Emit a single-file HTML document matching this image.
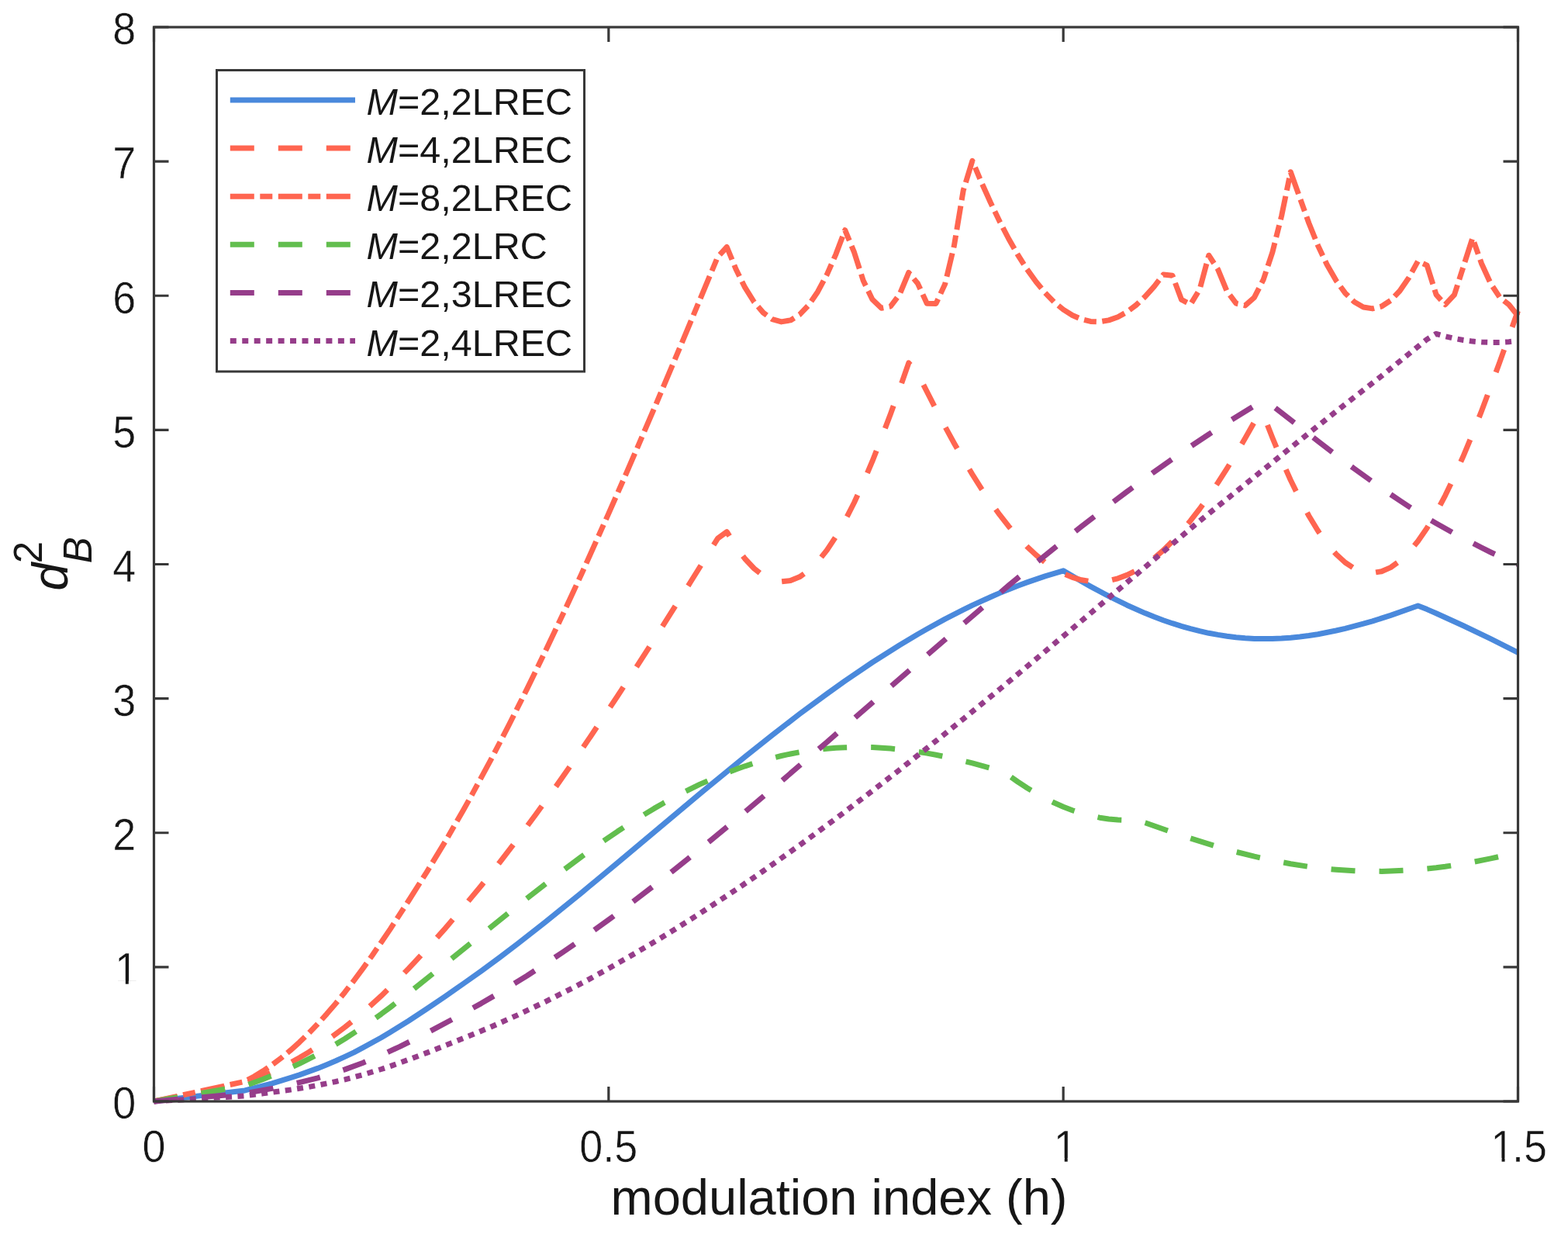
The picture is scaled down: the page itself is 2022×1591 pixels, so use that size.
<!DOCTYPE html>
<html><head><meta charset="utf-8"><title>d_B^2 vs modulation index</title>
<style>
html,body{margin:0;padding:0;background:#fff;}
svg{display:block;}
text{font-family:'Liberation Sans', Arial, Helvetica, sans-serif;fill:#161616;}
.tk text{stroke:#fff;stroke-width:0.5px;paint-order:normal;}
</style></head><body>
<svg width="2022" height="1591" viewBox="0 0 2022 1591">
<rect width="2022" height="1591" fill="#fff"/>
<g fill="none" stroke-width="7" stroke-linejoin="round">
<path d="M198.5 1420.0 L315.8 1405.9 L339.2 1400.0 L350.9 1396.8 L374.4 1389.7 L386.1 1385.9 L409.6 1377.4 L421.3 1372.7 L433.0 1367.8 L444.8 1362.4 L456.5 1356.8 L468.2 1350.7 L491.7 1337.8 L503.4 1330.8 L526.8 1316.2 L550.3 1300.8 L573.8 1284.8 L597.2 1268.5 L620.7 1251.9 L644.1 1234.6 L667.6 1216.8 L702.7 1189.2 L749.7 1151.2 L796.6 1112.2 L902.1 1023.7 L960.7 975.7 L995.9 947.7 L1031.1 920.6 L1066.3 894.6 L1089.7 877.9 L1124.9 854.0 L1160.1 831.7 L1183.5 817.7 L1195.3 811.0 L1218.7 798.1 L1242.2 786.1 L1253.9 780.4 L1277.4 769.7 L1289.1 764.6 L1312.5 755.2 L1324.3 750.9 L1347.7 742.9 L1371.2 735.8 L1394.6 749.5 L1406.3 756.1 L1429.8 768.7 L1453.3 780.2 L1476.7 790.6 L1488.4 795.3 L1500.2 799.7 L1511.9 803.7 L1523.6 807.4 L1535.3 810.7 L1547.1 813.7 L1558.8 816.3 L1570.5 818.4 L1582.2 820.2 L1594.0 821.7 L1605.7 822.7 L1617.4 823.4 L1629.2 823.6 L1640.9 823.5 L1652.6 823.1 L1664.3 822.2 L1676.1 821.0 L1687.8 819.5 L1699.5 817.7 L1723.0 813.0 L1734.7 810.3 L1758.1 804.2 L1769.9 800.8 L1793.3 793.4 L1828.5 781.0 L1840.2 785.6 L1852.0 790.7 L1887.1 806.8 L1922.3 823.7 L1957.5 841.3" stroke="#4a89dc"/>
<path d="M198.5 1420.0 L315.8 1397.2 L327.5 1392.5 L339.2 1387.5 L350.9 1382.1 L362.7 1376.3 L374.4 1370.2 L386.1 1363.7 L397.9 1356.7 L409.6 1349.3 L421.3 1341.5 L433.0 1333.1 L444.8 1324.3 L456.5 1314.9 L468.2 1305.1 L479.9 1294.7 L491.7 1283.9 L503.4 1272.6 L526.8 1248.9 L550.3 1223.7 L573.8 1197.3 L597.2 1170.0 L620.7 1141.7 L644.1 1112.2 L667.6 1081.6 L691.0 1050.0 L714.5 1017.5 L737.9 984.0 L761.4 949.7 L796.6 897.0 L820.0 861.1 L855.2 806.2 L890.4 750.5 L925.6 694.1 L937.3 685.7 L949.0 704.6 L960.7 720.5 L972.5 733.0 L984.2 742.1 L995.9 747.8 L1007.6 749.9 L1019.4 748.6 L1031.1 743.8 L1042.8 735.6 L1054.5 724.1 L1066.3 709.4 L1078.0 691.7 L1089.7 671.2 L1101.5 648.0 L1113.2 622.4 L1124.9 594.7 L1136.6 565.0 L1148.4 533.8 L1160.1 501.3 L1171.8 467.9 L1183.5 481.6 L1207.0 527.9 L1218.7 550.1 L1230.4 571.5 L1242.2 592.0 L1253.9 611.6 L1265.6 630.1 L1277.4 647.5 L1289.1 663.7 L1300.8 678.7 L1312.5 692.3 L1324.3 704.6 L1336.0 715.5 L1347.7 725.0 L1359.4 733.0 L1371.2 739.4 L1382.9 744.4 L1394.6 747.8 L1406.3 749.6 L1418.1 749.9 L1429.8 748.6 L1441.5 745.8 L1453.3 741.4 L1465.0 735.6 L1476.7 728.3 L1488.4 719.6 L1500.2 709.4 L1511.9 697.9 L1523.6 685.2 L1535.3 671.2 L1547.1 656.0 L1558.8 639.7 L1570.5 622.4 L1582.2 604.1 L1594.0 585.0 L1605.7 565.0 L1617.4 544.4 L1629.2 534.7 L1640.9 564.5 L1652.6 592.7 L1664.3 619.0 L1676.1 643.1 L1687.8 665.0 L1699.5 684.3 L1711.2 700.8 L1723.0 714.5 L1734.7 725.3 L1746.4 732.9 L1758.1 737.3 L1769.9 738.6 L1781.6 736.7 L1793.3 731.6 L1805.1 723.3 L1816.8 712.0 L1828.5 697.8 L1840.2 680.7 L1852.0 661.0 L1863.7 638.8 L1875.4 614.3 L1887.1 587.8 L1898.9 559.6 L1910.6 529.7 L1922.3 498.6 L1934.0 466.6 L1957.5 400.8" stroke="#ff6550" stroke-dasharray="31 31"/>
<path d="M198.5 1420.0 L315.8 1394.3 L327.5 1388.0 L339.2 1380.8 L350.9 1372.8 L362.7 1364.0 L374.4 1354.3 L386.1 1343.8 L397.9 1332.4 L409.6 1320.3 L421.3 1307.3 L433.0 1293.7 L444.8 1279.2 L456.5 1264.1 L468.2 1248.3 L479.9 1232.0 L503.4 1197.6 L526.8 1161.5 L550.3 1124.3 L573.8 1085.6 L597.2 1045.0 L608.9 1024.0 L632.4 980.7 L655.8 935.6 L679.3 888.9 L702.7 840.8 L726.2 791.3 L749.7 740.5 L784.8 662.1 L808.3 608.7 L843.5 526.9 L878.6 443.7 L925.6 331.1 L937.3 318.5 L949.0 347.0 L960.7 370.7 L972.5 389.5 L984.2 403.1 L995.9 411.6 L1007.6 414.9 L1019.4 412.9 L1031.1 405.7 L1042.8 393.4 L1054.5 376.2 L1066.3 354.1 L1078.0 327.6 L1089.7 296.7 L1101.5 325.2 L1113.2 361.8 L1124.9 386.0 L1136.6 397.2 L1148.4 395.0 L1160.1 379.6 L1171.8 351.4 L1183.5 365.6 L1195.3 391.2 L1207.0 391.4 L1218.7 366.1 L1230.4 316.7 L1242.2 245.6 L1253.9 207.3 L1265.6 235.1 L1277.4 261.2 L1289.1 285.5 L1300.8 308.0 L1312.5 328.5 L1324.3 347.0 L1336.0 363.3 L1347.7 377.5 L1359.4 389.5 L1371.2 399.1 L1382.9 406.5 L1394.6 411.6 L1406.3 414.4 L1418.1 414.8 L1429.8 412.9 L1441.5 408.7 L1453.3 402.2 L1465.0 393.4 L1476.7 382.4 L1488.4 369.3 L1500.2 354.1 L1511.9 355.3 L1523.6 386.4 L1535.3 392.4 L1547.1 373.0 L1558.8 329.2 L1570.5 347.2 L1582.2 375.5 L1594.0 391.2 L1605.7 393.9 L1617.4 383.6 L1629.2 360.5 L1640.9 325.1 L1652.6 278.5 L1664.3 221.7 L1687.8 287.5 L1699.5 316.4 L1711.2 341.3 L1723.0 361.8 L1734.7 377.9 L1746.4 389.3 L1758.1 396.0 L1769.9 397.9 L1781.6 395.0 L1793.3 387.4 L1805.1 375.0 L1816.8 358.0 L1828.5 336.7 L1840.2 342.2 L1852.0 379.8 L1863.7 392.7 L1875.4 380.2 L1898.9 306.9 L1910.6 340.0 L1922.3 365.6 L1934.0 383.3 L1945.8 392.8 L1957.5 407.2" stroke="#ff6550" stroke-dasharray="31 7.5 16 7.5"/>
<path d="M198.5 1420.0 L315.8 1399.9 L339.2 1391.5 L362.7 1382.0 L386.1 1371.4 L409.6 1359.6 L421.3 1353.2 L433.0 1346.4 L444.8 1339.2 L468.2 1323.9 L491.7 1307.3 L503.4 1298.6 L526.8 1280.5 L667.6 1167.7 L714.5 1131.0 L749.7 1104.6 L773.1 1087.9 L796.6 1071.8 L820.0 1056.7 L843.5 1042.4 L855.2 1035.7 L878.6 1023.0 L902.1 1011.4 L925.6 1001.1 L949.0 991.9 L960.7 987.8 L972.5 984.0 L984.2 980.5 L995.9 977.4 L1007.6 974.5 L1019.4 972.0 L1031.1 969.8 L1042.8 968.0 L1054.5 966.4 L1066.3 965.2 L1078.0 964.3 L1089.7 963.7 L1101.5 963.4 L1124.9 963.6 L1148.4 965.1 L1171.8 967.6 L1195.3 971.1 L1207.0 973.3 L1230.4 978.2 L1253.9 983.9 L1265.6 987.1 L1289.1 993.9 L1300.8 999.9 L1312.5 1008.0 L1324.3 1015.7 L1336.0 1022.7 L1347.7 1029.2 L1359.4 1035.0 L1371.2 1040.2 L1382.9 1044.7 L1394.6 1048.6 L1406.3 1051.7 L1418.1 1054.2 L1429.8 1056.0 L1441.5 1057.0 L1453.3 1057.4 L1465.0 1057.0 L1476.7 1060.7 L1511.9 1073.1 L1535.3 1080.9 L1570.5 1091.8 L1594.0 1098.3 L1617.4 1104.2 L1640.9 1109.3 L1664.3 1113.8 L1687.8 1117.4 L1711.2 1120.2 L1723.0 1121.2 L1746.4 1122.7 L1758.1 1123.2 L1781.6 1123.4 L1793.3 1123.1 L1816.8 1122.0 L1828.5 1121.1 L1852.0 1118.8 L1863.7 1117.3 L1887.1 1113.7 L1898.9 1111.6 L1922.3 1106.9 L1934.0 1104.3 L1957.5 1098.7" stroke="#62be4e" stroke-dasharray="31 31"/>
<path d="M198.5 1420.0 L315.8 1409.8 L350.9 1403.4 L374.4 1398.4 L386.1 1395.7 L409.6 1389.8 L421.3 1386.4 L444.8 1378.9 L468.2 1370.2 L491.7 1360.4 L515.1 1349.6 L538.6 1337.9 L562.0 1325.7 L585.5 1313.1 L620.7 1293.6 L644.1 1279.9 L679.3 1258.2 L702.7 1243.0 L726.2 1227.3 L749.7 1211.1 L784.8 1185.9 L808.3 1168.6 L843.5 1141.7 L866.9 1123.4 L902.1 1095.3 L949.0 1056.7 L1007.6 1007.2 L1066.3 956.8 L1195.3 844.7 L1265.6 784.4 L1300.8 754.8 L1336.0 725.7 L1371.2 697.3 L1394.6 678.8 L1429.8 651.6 L1453.3 633.9 L1488.4 608.3 L1511.9 591.7 L1535.3 575.6 L1558.8 560.0 L1582.2 545.0 L1617.4 523.3 L1629.2 522.9 L1640.9 523.1 L1699.5 568.8 L1723.0 586.8 L1746.4 604.3 L1781.6 629.5 L1805.1 645.4 L1816.8 653.1 L1840.2 667.8 L1852.0 674.7 L1875.4 687.9 L1910.6 706.2 L1922.3 712.0 L1934.0 717.5 L1945.8 722.7 L1957.5 727.5" stroke="#963d8a" stroke-dasharray="31 31"/>
<path d="M198.5 1420.0 L315.8 1412.9 L339.2 1409.9 L374.4 1405.1 L397.9 1401.4 L409.6 1399.3 L433.0 1394.5 L444.8 1391.8 L468.2 1385.6 L491.7 1378.5 L503.4 1374.6 L526.8 1366.2 L550.3 1357.4 L585.5 1343.5 L608.9 1334.1 L632.4 1324.3 L667.6 1308.6 L702.7 1291.8 L737.9 1274.0 L761.4 1261.6 L784.8 1248.7 L820.0 1228.5 L843.5 1214.6 L866.9 1200.3 L902.1 1178.0 L949.0 1147.1 L984.2 1123.0 L1031.1 1089.7 L1078.0 1055.3 L1124.9 1019.7 L1160.1 992.4 L1207.0 955.3 L1242.2 927.0 L1289.1 888.6 L1336.0 849.7 L1382.9 810.4 L1547.1 671.6 L1687.8 558.4 L1734.7 521.2 L1781.6 484.7 L1840.2 437.4 L1852.0 430.3 L1863.7 433.6 L1875.4 436.4 L1887.1 438.5 L1898.9 440.1 L1910.6 441.1 L1922.3 441.5 L1934.0 441.4 L1945.8 440.7 L1957.5 439.4" stroke="#963d8a" stroke-dasharray="8 7.45"/>
</g>
<g fill="none" stroke="#383838" stroke-width="3.2">
<path d="M198.5 1420.00h19M1957.5 1420.00h-19M198.5 1246.88h19M1957.5 1246.88h-19M198.5 1073.75h19M1957.5 1073.75h-19M198.5 900.62h19M1957.5 900.62h-19M198.5 727.50h19M1957.5 727.50h-19M198.5 554.38h19M1957.5 554.38h-19M198.5 381.25h19M1957.5 381.25h-19M198.5 208.12h19M1957.5 208.12h-19M198.5 35.00h19M1957.5 35.00h-19M198.50 1420.0v-19M198.50 35v19M784.83 1420.0v-19M784.83 35v19M1371.17 1420.0v-19M1371.17 35v19M1957.50 1420.0v-19M1957.50 35v19"/>
<rect x="198.5" y="35" width="1759.0" height="1385.0"/>
</g>
<g class="tk" font-size="54.5"><g transform="translate(175.30 1442.30) scale(0.99 1.05)"><text x="-30.31">0</text><g fill="#fff"></g></g><g transform="translate(175.30 1269.17) scale(0.99 1.05)"><text x="-27.68">1</text><g fill="#fff"><rect x="-25.29" y="-4.26" width="11.71" height="8.26"/><rect x="-9.56" y="-4.26" width="11.42" height="8.26"/></g></g><g transform="translate(175.30 1096.05) scale(0.99 1.05)"><text x="-30.31">2</text><g fill="#fff"></g></g><g transform="translate(175.30 922.92) scale(0.99 1.05)"><text x="-30.31">3</text><g fill="#fff"></g></g><g transform="translate(175.30 749.80) scale(0.99 1.05)"><text x="-30.31">4</text><g fill="#fff"></g></g><g transform="translate(175.30 576.67) scale(0.99 1.05)"><text x="-30.31">5</text><g fill="#fff"></g></g><g transform="translate(175.30 403.55) scale(0.99 1.05)"><text x="-30.31">6</text><g fill="#fff"></g></g><g transform="translate(175.30 230.43) scale(0.99 1.05)"><text x="-30.31">7</text><g fill="#fff"></g></g><g transform="translate(175.30 57.30) scale(0.99 1.05)"><text x="-30.31">8</text><g fill="#fff"></g></g></g>
<g class="tk" font-size="54.5"><g transform="translate(198.50 1497.50) scale(0.99 1.05)"><text x="-15.16">0</text><g fill="#fff"></g></g><g transform="translate(784.83 1497.50) scale(0.99 1.05)"><text x="-37.88">0.5</text><g fill="#fff"></g></g><g transform="translate(1371.17 1497.50) scale(0.99 1.05)"><text x="-12.53">1</text><g fill="#fff"><rect x="-10.13" y="-4.26" width="11.71" height="8.26"/><rect x="5.59" y="-4.26" width="11.42" height="8.26"/></g></g><g transform="translate(1957.50 1497.50) scale(0.99 1.05)"><text x="-35.25">1</text><text x="-7.57">.5</text><g fill="#fff"><rect x="-32.86" y="-4.26" width="11.71" height="8.26"/><rect x="-17.13" y="-4.26" width="11.42" height="8.26"/></g></g></g>
<text x="1082" y="1565.5" font-size="65" text-anchor="middle">modulation index (h)</text>
<g transform="translate(0 802.7) rotate(-90)" font-size="65">
<text x="41" y="86.5" font-style="italic">d</text>
<text x="76.5" y="54.3" font-size="51">2</text>
<text x="76.5" y="118.2" font-size="51" font-style="italic">B</text>
</g>
<rect x="279.5" y="90.5" width="474" height="388.5" fill="#fff" stroke="#383838" stroke-width="3"/>
<g fill="none" stroke-width="7">
<path d="M296.8 129.0H458" stroke="#4a89dc"/>
<path d="M296.8 191.1H458" stroke="#ff6550" stroke-dasharray="31 31"/>
<path d="M296.8 253.2H458" stroke="#ff6550" stroke-dasharray="31 7.5 16 7.5"/>
<path d="M296.8 315.3H458" stroke="#62be4e" stroke-dasharray="31 31"/>
<path d="M296.8 377.4H458" stroke="#963d8a" stroke-dasharray="31 31"/>
<path d="M296.8 439.5H458" stroke="#963d8a" stroke-dasharray="8 7.45"/>
</g>
<g font-size="48.5"><text x="472.6" y="148.0"><tspan font-style="italic">M</tspan>=2,2LREC</text><text x="472.6" y="210.1"><tspan font-style="italic">M</tspan>=4,2LREC</text><text x="472.6" y="272.2"><tspan font-style="italic">M</tspan>=8,2LREC</text><text x="472.6" y="334.3"><tspan font-style="italic">M</tspan>=2,2LRC</text><text x="472.6" y="396.4"><tspan font-style="italic">M</tspan>=2,3LREC</text><text x="472.6" y="458.5"><tspan font-style="italic">M</tspan>=2,4LREC</text></g>
</svg>
</body></html>
